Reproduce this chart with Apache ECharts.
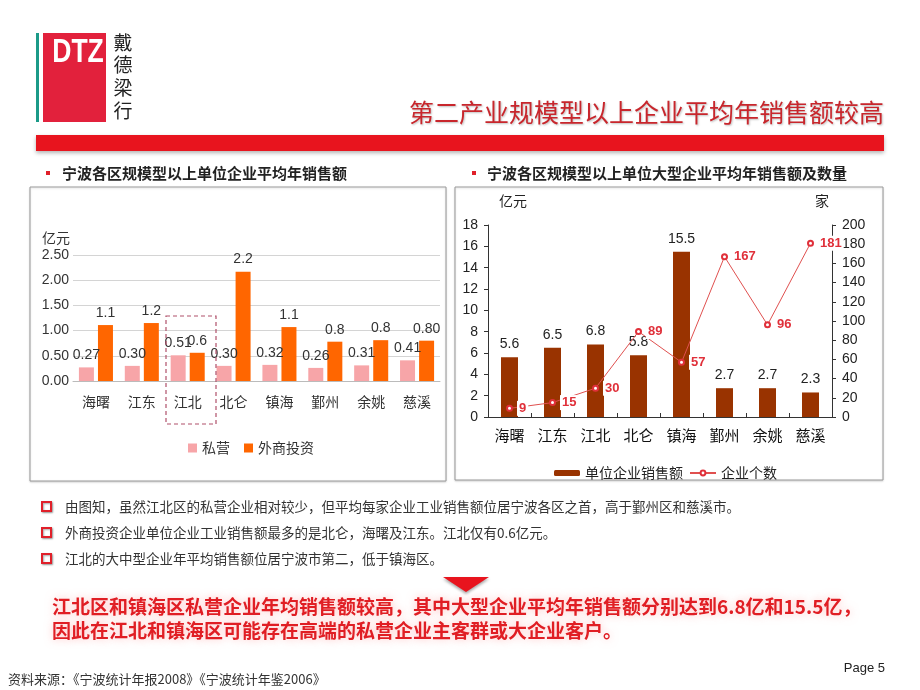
<!DOCTYPE html>
<html>
<head>
<meta charset="utf-8">
<script src="https://cdn.jsdelivr.net/npm/echarts@6/dist/echarts.min.js"></script>
<style>
  html, body { margin: 0; background: #fff; }
  #main { width: 920px; height: 690px; }
</style>
</head>
<body>
<div id="main"></div>
<script>
// data
const districts = ['海曙', '江东', '江北', '北仑', '镇海', '鄞州', '余姚', '慈溪'];
const privateAvg = [0.27, 0.30, 0.51, 0.30, 0.32, 0.26, 0.31, 0.41];
const foreignAvg = [1.11, 1.15, 0.56, 2.17, 1.07, 0.78, 0.81, 0.80];
const foreignLabels = ['1.1', '1.2', '0.6', '2.2', '1.1', '0.8', '0.8', '0.80'];
const largeAvg = [5.6, 6.5, 6.8, 5.8, 15.5, 2.7, 2.7, 2.3];
const largeCount = [9, 15, 30, 89, 57, 167, 96, 181];

const bulletLines = [
  '由图知，虽然江北区的私营企业相对较少，但平均每家企业工业销售额位居宁波各区之首，高于鄞州区和慈溪市。',
  '外商投资企业单位企业工业销售额最多的是北仑，海曙及江东。江北仅有0.6亿元。',
  '江北的大中型企业年平均销售额位居宁波市第二，低于镇海区。'
];
const conclusion = [
  '江北区和镇海区私营企业年均销售额较高，其中大型企业平均年销售额分别达到6.8亿和15.5亿，',
  '因此在江北和镇海区可能存在高端的私营企业主客群或大企业客户。'
];

const FONT = "'Liberation Sans','Noto Sans CJK SC',sans-serif";
const CJK = "'Noto Sans CJK SC',sans-serif";

const chart = echarts.init(document.getElementById('main'), null, { renderer: 'canvas' });

function txt(x, y, text, font, fill, align, extra) {
  return {
    type: 'text', x: x, y: y, z: 10,
    style: Object.assign({ text: text, font: font, fill: fill, align: align || 'left', verticalAlign: 'middle' }, extra || {})
  };
}

const dtz = txt(78, 53, 'DTZ', "bold 34px 'Liberation Sans'", '#fff', 'center');
dtz.scaleX = 0.78;

const graphics = [
  // logo
  { type: 'rect', shape: { x: 36, y: 33, width: 3, height: 89 }, style: { fill: '#1B9A88' } },
  { type: 'rect', shape: { x: 43, y: 33, width: 63, height: 89 }, style: { fill: '#E2213C' } },
  dtz,
  txt(123, 43, '戴', '19px ' + CJK, '#222', 'center'),
  txt(123, 65, '德', '19px ' + CJK, '#222', 'center'),
  txt(123, 88, '梁', '19px ' + CJK, '#222', 'center'),
  txt(123, 111, '行', '19px ' + CJK, '#222', 'center'),
  // title + band
  txt(884, 112, '第二产业规模型以上企业平均年销售额较高', '25px ' + CJK, '#C8262C', 'right',
    { textShadowColor: 'rgba(0,0,0,0.25)', textShadowBlur: 2, textShadowOffsetX: 1, textShadowOffsetY: 1 }),
  { type: 'rect', shape: { x: 36, y: 135, width: 848, height: 16 },
    style: { fill: '#E8141E', shadowColor: 'rgba(0,0,0,0.3)', shadowBlur: 4, shadowOffsetY: 2 } },
  // sub titles
  { type: 'rect', shape: { x: 46, y: 171, width: 4, height: 4 }, style: { fill: '#E0202A' } },
  txt(62, 173, '宁波各区规模型以上单位企业平均年销售额', 'bold 15px ' + CJK, '#222'),
  { type: 'rect', shape: { x: 472, y: 171, width: 4, height: 4 }, style: { fill: '#E0202A' } },
  txt(487, 173, '宁波各区规模型以上单位大型企业平均年销售额及数量', 'bold 15px ' + CJK, '#222'),
  // chart frames
  { type: 'rect', shape: { x: 30, y: 187, width: 416, height: 294 },
    style: { fill: '#fff', stroke: '#9a9a9a', lineWidth: 1, shadowColor: 'rgba(0,0,0,0.15)', shadowBlur: 2, shadowOffsetY: 1 } },
  { type: 'rect', shape: { x: 455, y: 187, width: 428, height: 293 },
    style: { fill: '#fff', stroke: '#9a9a9a', lineWidth: 1, shadowColor: 'rgba(0,0,0,0.15)', shadowBlur: 2, shadowOffsetY: 1 } },
  txt(42, 238, '亿元', '14px ' + CJK, '#333'),
  txt(499, 201, '亿元', '14px ' + CJK, '#222'),
  txt(822, 201, '家', '14px ' + CJK, '#222', 'center'),
  // highlight box around 江北
  { type: 'rect', z: 20, shape: { x: 166, y: 316, width: 50, height: 108 },
    style: { fill: 'none', stroke: '#B0506A', lineWidth: 1.2, lineDash: [4, 3] } },
  // arrow
  { type: 'polygon', shape: { points: [[443, 577], [489, 577], [466, 592]] },
    style: { fill: '#E8141E', shadowColor: 'rgba(0,0,0,0.35)', shadowBlur: 3, shadowOffsetY: 2 } },
  // footer
  txt(8, 679, '资料来源：《宁波统计年报2008》《宁波统计年鉴2006》', '13px ' + CJK, '#333'),
  txt(885, 668, 'Page 5', "13px 'Liberation Sans Narrow','Liberation Sans'", '#222', 'right')
];

bulletLines.forEach(function (line, i) {
  const y = 507 + i * 26;
  graphics.push({ type: 'rect', shape: { x: 42, y: y - 5, width: 9, height: 9 },
    style: { fill: '#fff', stroke: '#E0202A', lineWidth: 2, shadowColor: 'rgba(0,0,0,0.35)', shadowBlur: 2, shadowOffsetX: 1, shadowOffsetY: 1 } });
  graphics.push(txt(65, y, line, '13.5px ' + CJK, '#333'));
});
conclusion.forEach(function (line, i) {
  graphics.push(txt(52, 607 + i * 24, line, 'bold 19px ' + CJK, '#E01E24', 'left',
    { textShadowColor: 'rgba(255,140,140,0.55)', textShadowBlur: 8 }));
});

const option = {
  animation: false,
  textStyle: { fontFamily: FONT },
  graphic: graphics,
  grid: [
    { left: 73, right: 480, top: 255, bottom: 309 },
    { left: 488, right: 88, top: 225, bottom: 273 }
  ],
  legend: [
    {
      data: ['私营', '外商投资'], left: 183, top: 436, itemWidth: 9, itemHeight: 9, itemGap: 14,
      icon: 'rect', textStyle: { fontSize: 14, color: '#333', fontFamily: CJK }
    },
    {
      data: ['单位企业销售额', '企业个数'], left: 549, top: 461, itemWidth: 26, itemHeight: 6, itemGap: 6,
      textStyle: { fontSize: 14, color: '#222', fontFamily: CJK }
    }
  ],
  xAxis: [
    {
      type: 'category', gridIndex: 0, data: districts,
      axisLine: { lineStyle: { color: '#bbb' } }, axisTick: { show: false },
      axisLabel: { fontSize: 14, color: '#333', margin: 14, fontFamily: CJK }
    },
    {
      type: 'category', gridIndex: 1, data: districts,
      axisLine: { lineStyle: { color: '#333' } },
      axisTick: { show: true, inside: true, length: 4, lineStyle: { color: '#333' } },
      axisLabel: { fontSize: 15, color: '#111', margin: 11, fontFamily: CJK }
    }
  ],
  yAxis: [
    {
      type: 'value', gridIndex: 0, min: 0, max: 2.5, interval: 0.5,
      axisLine: { show: false }, axisTick: { show: false },
      axisLabel: { fontSize: 14, color: '#333', margin: 4, formatter: function (v) { return v.toFixed(2); } },
      splitLine: { lineStyle: { color: '#d4d4d4' } }
    },
    {
      type: 'value', gridIndex: 1, min: 0, max: 18, interval: 2, position: 'left',
      axisLine: { show: true, lineStyle: { color: '#333' } },
      axisTick: { show: true, length: 4, lineStyle: { color: '#333' } },
      axisLabel: { fontSize: 14, color: '#222', margin: 10 },
      splitLine: { show: false }
    },
    {
      type: 'value', gridIndex: 1, min: 0, max: 200, interval: 20, position: 'right',
      axisLine: { show: true, lineStyle: { color: '#333' } },
      axisTick: { show: true, length: 4, lineStyle: { color: '#333' } },
      axisLabel: { fontSize: 14, color: '#222', margin: 10 },
      splitLine: { show: false }
    }
  ],
  series: [
    {
      name: '私营', type: 'bar', xAxisIndex: 0, yAxisIndex: 0, data: privateAvg,
      barWidth: 15, barGap: '27%', itemStyle: { color: '#F7A5A8' },
      label: { show: true, position: 'top', distance: 5, fontSize: 14, color: '#333',
        formatter: function (p) { return p.value.toFixed(2); } }
    },
    {
      name: '外商投资', type: 'bar', xAxisIndex: 0, yAxisIndex: 0, data: foreignAvg,
      barWidth: 15, itemStyle: { color: '#FF6600' },
      label: { show: true, position: 'top', distance: 5, fontSize: 14, color: '#333',
        formatter: function (p) { return foreignLabels[p.dataIndex]; } }
    },
    {
      name: '单位企业销售额', type: 'bar', xAxisIndex: 1, yAxisIndex: 1, data: largeAvg,
      barWidth: 17, itemStyle: { color: '#993300' },
      label: { show: true, position: 'top', distance: 6, fontSize: 14, color: '#222' }
    },
    {
      name: '企业个数', type: 'line', xAxisIndex: 1, yAxisIndex: 2, data: largeCount, z: 5,
      symbol: 'emptyCircle', symbolSize: 5,
      lineStyle: { color: '#E0504F', width: 1 },
      itemStyle: { color: '#E0303A', borderWidth: 1 },
      label: { show: true, position: 'right', distance: 4, fontSize: 13, fontWeight: 'bold',
        color: '#E0303A', backgroundColor: '#fff', padding: [1, 2] }
    }
  ]
};

chart.setOption(option);
</script>
</body>
</html>
